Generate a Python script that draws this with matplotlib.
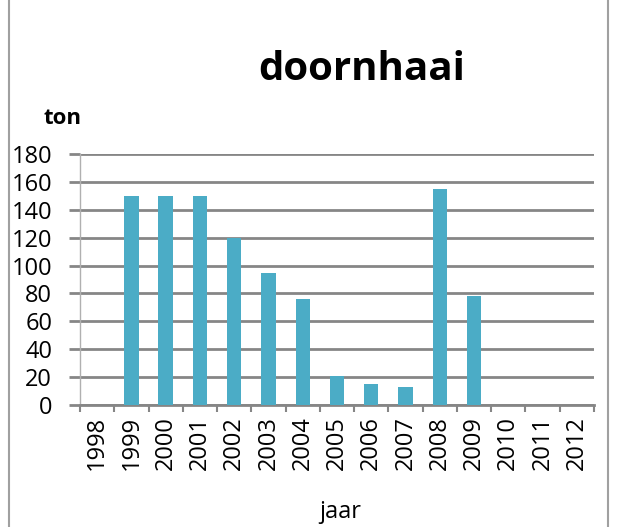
import numpy as np
import matplotlib
matplotlib.use("Agg")
import matplotlib.pyplot as plt

# ----------------------------
# Data
# ----------------------------
years = ["1998", "1999", "2000", "2001", "2002", "2003", "2004", "2005",
         "2006", "2007", "2008", "2009", "2010", "2011", "2012"]
tons = [0, 150, 150, 150, 120, 95, 76, 21, 15, 13, 155, 78, 0, 0, 0]
yticks = [0, 20, 40, 60, 80, 100, 120, 140, 160, 180]

bar_color = "#4bacc6"
grid_color = "#868686"

plt.rcParams['font.family'] = ['Open Sans', 'DejaVu Sans']

fig = plt.figure(figsize=(6.17, 5.27), dpi=100)
ax = fig.add_axes([80/617, 1-405/527, (594-80)/617, (405-154)/527])

x = np.arange(len(years))
ax.bar(x, tons, width=0.42, color=bar_color, zorder=3)

ax.set_xlim(-0.5, len(years) - 0.5)
ax.set_ylim(0, 180)
ax.set_yticks(yticks)
ax.set_yticklabels([str(t) for t in yticks], fontsize=17)
ax.yaxis.grid(True, color=grid_color, linewidth=2, zorder=0)
ax.tick_params(axis='y', length=8, width=2, color=grid_color, pad=12)

# category labels in the middle, tick marks on boundaries
ax.set_xticks(x)
ax.set_xticklabels(years, rotation=90, fontsize=17)
ax.tick_params(axis='x', length=0, pad=8)
ax.set_xticks(np.arange(-0.5, len(years)), minor=True)
ax.tick_params(axis='x', which='minor', length=5, width=1.5, color=grid_color)

for s in ['top', 'right']:
    ax.spines[s].set_visible(False)
ax.spines['left'].set_color("#b0b0b0")
ax.spines['left'].set_linewidth(1)
ax.spines['bottom'].set_color(grid_color)
ax.spines['bottom'].set_linewidth(2)

fig.text(362/617, 1-70/527, "doornhaai", fontsize=29, fontweight='bold',
         ha='center', va='center')
fig.text(44/617, 1-118/527, "ton", fontsize=16, fontweight='bold',
         ha='left', va='center')
fig.text(340/617, 1-512/527, "jaar", fontsize=17, ha='center', va='center')

# chart frame edges
fig.add_artist(plt.Line2D([9/617, 9/617], [0, 1], color="#a0a0a0", linewidth=1.5))
fig.add_artist(plt.Line2D([608/617, 608/617], [0, 1], color="#a0a0a0", linewidth=1.5))

fig.savefig("out.png", dpi=100)
